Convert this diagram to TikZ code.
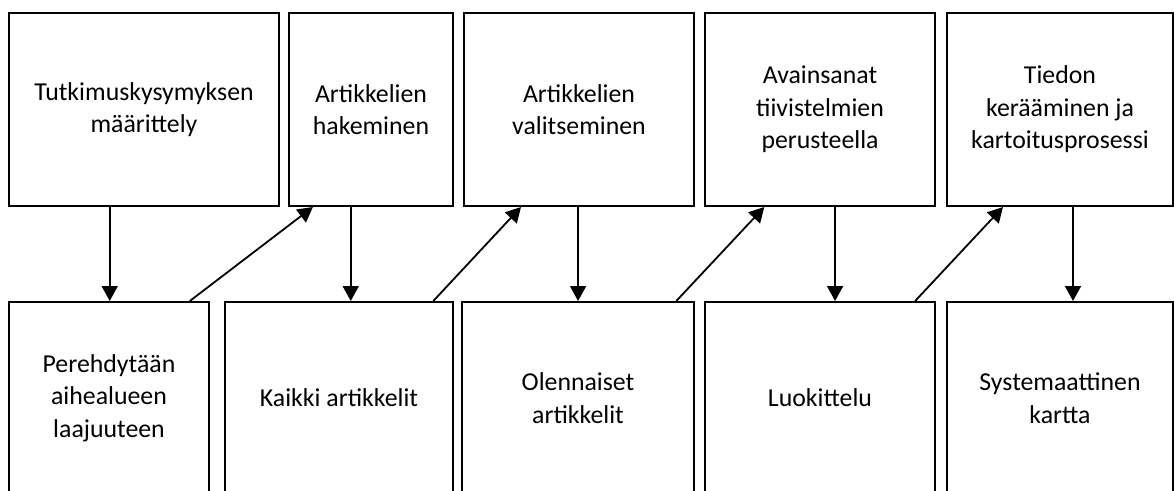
\documentclass[tikz,border=0pt]{standalone}
\usepackage{fontspec}
\setmainfont{Carlito}
\usetikzlibrary{arrows.meta,calc}

\begin{document}
\begin{tikzpicture}[x=1pt, y=-1pt, >={Triangle[length=15pt,width=16pt]},
    stage/.style={draw, line width=2pt, rectangle, anchor=north west, align=center,
        inner sep=0pt, font=\fontsize{25.8}{32.5}\selectfont},
    flow/.style={->, line width=1.8pt}]
        \clip (0,0) rectangle (1174,490);

        % Upper row of steps
        \node[stage, minimum width=270, minimum height=193] (t1) at (8,12) {Tutkimuskysymyksen\\määrittely};
        \node[stage, minimum width=164, minimum height=193] (t2) at (288,12) {Artikkelien\\hakeminen};
        \node[stage, minimum width=230, minimum height=193] (t3) at (463,12) {Artikkelien\\valitseminen};
        \node[stage, minimum width=230, minimum height=193] (t4) at (704,12) {Avainsanat\\tiivistelmien\\perusteella};
        \node[stage, minimum width=226, minimum height=193] (t5) at (946,12) {Tiedon\\kerääminen ja\\kartoitusprosessi};

        % Lower row of results (cut off at the bottom)
        \node[stage, minimum width=200, minimum height=192] (b1) at (8,301) {Perehdytään\\aihealueen\\laajuuteen};
        \node[stage, minimum width=228, minimum height=192] (b2) at (224,301) {Kaikki artikkelit};
        \node[stage, minimum width=232, minimum height=192] (b3) at (461,301) {Olennaiset\\artikkelit};
        \node[stage, minimum width=230, minimum height=192] (b4) at (704,301) {Luokittelu};
        \node[stage, minimum width=226, minimum height=192] (b5) at (946,301) {Systemaattinen\\kartta};

        % Downward arrows
        \foreach \t/\b/\p in {t1/b1/0.374, t2/b2/0.378, t3/b3/0.496, t4/b4/0.565, t5/b5/0.557}
            \draw[flow] ($(\t.south west)!\p!(\t.south east)$) coordinate (s) -- (s |- \b.north);

        % Diagonal arrows to the next step
        \foreach \a/\b/\p/\q in {b1/t2/0.9/0.15, b2/t3/0.91/0.25, b3/t4/0.92/0.26, b4/t5/0.91/0.25}
            \draw[flow] ($(\a.north west)!\p!(\a.north east)$) -- ($(\b.south west)!\q!(\b.south east)$);
    \end{tikzpicture}
\end{document}
